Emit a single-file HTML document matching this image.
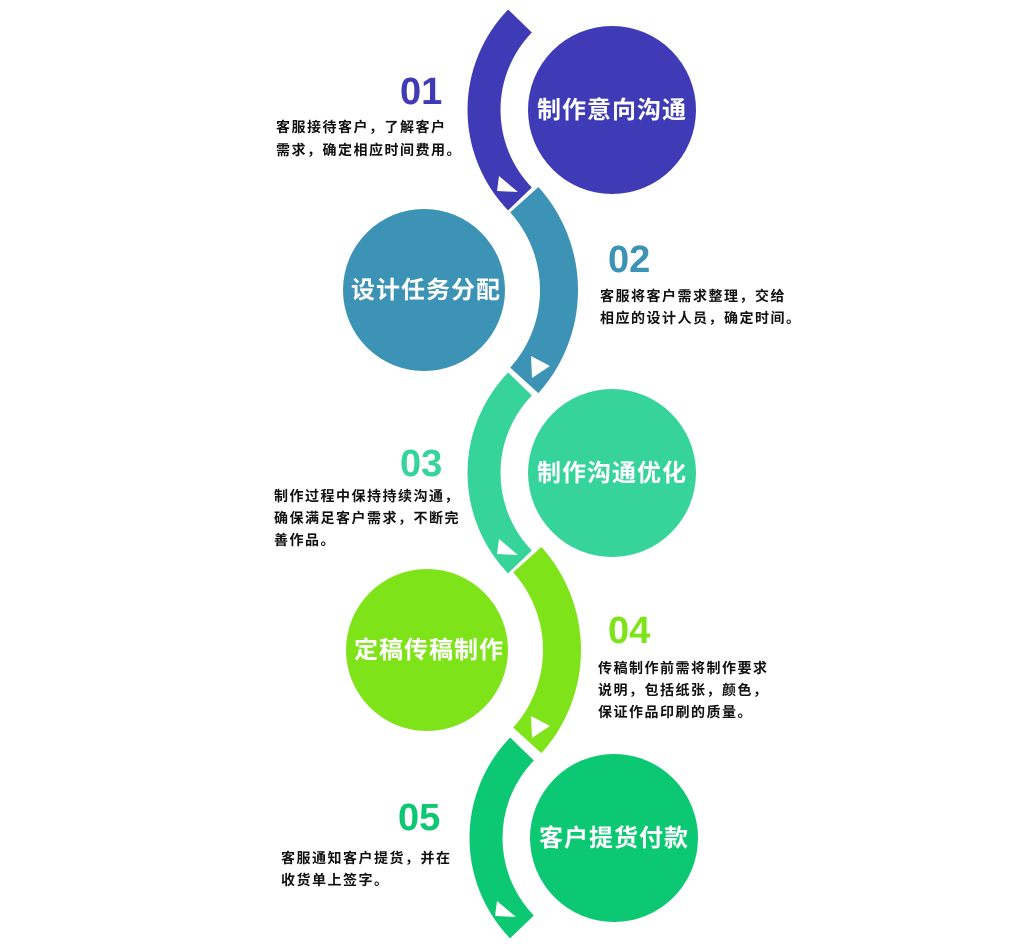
<!DOCTYPE html>
<html><head><meta charset="utf-8"><style>
html,body{margin:0;padding:0;background:#fff;overflow:hidden;width:1024px;height:950px}
svg{display:block}
.t{font-family:"Liberation Sans","Noto Sans CJK SC",sans-serif;font-weight:bold;font-size:14px;fill:#111;letter-spacing:1.5px}
.n{font-family:"Liberation Sans",sans-serif;font-weight:bold;font-size:38px}
.c{font-family:"Liberation Sans","Noto Sans CJK SC",sans-serif;font-weight:bold;font-size:24px;fill:#fff;text-anchor:middle;letter-spacing:1px}
</style></head><body>
<svg width="1024" height="950" viewBox="0 0 1024 950" xmlns="http://www.w3.org/2000/svg">
<!-- arcs -->
<circle cx="612" cy="110" r="128" fill="none" stroke="#3f3ab5" stroke-width="33" stroke-dasharray="196.6 2000" transform="rotate(136 612 110)"/>
<circle cx="424" cy="290" r="135" fill="none" stroke="#3c93b5" stroke-width="38" stroke-dasharray="197.9 2000" transform="rotate(-42 424 290)"/>
<circle cx="612" cy="473" r="128" fill="none" stroke="#36d49a" stroke-width="33" stroke-dasharray="196.6 2000" transform="rotate(136 612 473)"/>
<circle cx="427" cy="650" r="135" fill="none" stroke="#7fe319" stroke-width="38" stroke-dasharray="197.9 2000" transform="rotate(-42 427 650)"/>
<circle cx="614" cy="838" r="128" fill="none" stroke="#0cc872" stroke-width="33" stroke-dasharray="196.6 2000" transform="rotate(136 614 838)"/>
<!-- triangles -->
<polygon points="499,176 518,192 497,191" fill="#fff"/>
<polygon points="531,356 550,366 532,378" fill="#fff"/>
<polygon points="499,539 518,555 497,554" fill="#fff"/>
<polygon points="531,716 550,726 532,738" fill="#fff"/>
<polygon points="497,901 516,917 495,916" fill="#fff"/>
<!-- circles -->
<circle cx="612" cy="110" r="84" fill="#3f3ab5"/>
<circle cx="424" cy="290" r="81" fill="#3c93b5"/>
<circle cx="612" cy="473" r="84" fill="#36d49a"/>
<circle cx="427" cy="650" r="81" fill="#7fe319"/>
<circle cx="614" cy="838" r="84" fill="#0cc872"/>
<text class="c" x="612" y="118">制作意向沟通</text>
<text class="c" x="426" y="298">设计任务分配</text>
<text class="c" x="612" y="481">制作沟通优化</text>
<text class="c" x="429" y="658">定稿传稿制作</text>
<text class="c" x="614" y="846">客户提货付款</text>
<!-- numbers -->
<text class="n" x="400" y="104" fill="#3f3ab5">01</text>
<text class="n" x="608" y="272" fill="#3c93b5">02</text>
<text class="n" x="400" y="476" fill="#36d49a">03</text>
<text class="n" x="608" y="643" fill="#7fe319">04</text>
<text class="n" x="398" y="830" fill="#0cc872">05</text>
<!-- descriptions -->
<text class="t" x="276" y="132">客服接待客户，了解客户</text>
<text class="t" x="276" y="155">需求，确定相应时间费用。</text>
<text class="t" x="600" y="301">客服将客户需求整理，交给</text>
<text class="t" x="600" y="323">相应的设计人员，确定时间。</text>
<text class="t" x="274" y="501">制作过程中保持持续沟通，</text>
<text class="t" x="274" y="523">确保满足客户需求，不断完</text>
<text class="t" x="274" y="545">善作品。</text>
<text class="t" x="598" y="673">传稿制作前需将制作要求</text>
<text class="t" x="598" y="695">说明，包括纸张，颜色，</text>
<text class="t" x="598" y="717">保证作品印刷的质量。</text>
<text class="t" x="281" y="863">客服通知客户提货，并在</text>
<text class="t" x="281" y="885">收货单上签字。</text>
</svg>
</body></html>
